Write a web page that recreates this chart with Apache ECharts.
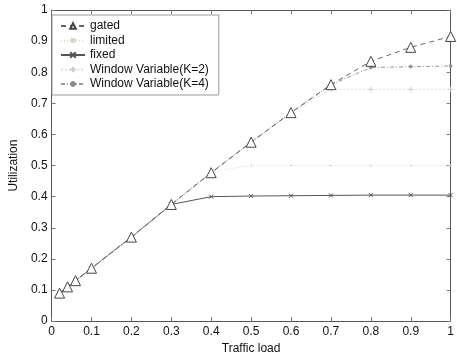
<!DOCTYPE html>
<html><head><meta charset="utf-8">
<script src="https://cdn.jsdelivr.net/npm/echarts@6/dist/echarts.min.js"></script>
<style>html,body{margin:0;padding:0;background:#fff}#c{width:457px;height:360px}</style>
</head><body><div id="c"></div>
<script>
const loads = [0.02, 0.04, 0.06, 0.1, 0.2, 0.3, 0.4, 0.5, 0.6, 0.7, 0.8, 0.9, 1.0];
const gated   = [0.09, 0.11, 0.13, 0.17, 0.27, 0.375, 0.477, 0.575, 0.67, 0.76, 0.835, 0.88, 0.915];
const limited = [0.09, 0.11, 0.13, 0.17, 0.27, 0.375, 0.48, 0.50, 0.50, 0.50, 0.50, 0.50, 0.50];
const fixed   = [0.09, 0.11, 0.13, 0.17, 0.27, 0.375, 0.40, 0.402, 0.403, 0.404, 0.405, 0.405, 0.405];
const wv2     = [0.09, 0.11, 0.13, 0.17, 0.27, 0.375, 0.477, 0.575, 0.67, 0.745, 0.745, 0.745, 0.745];
const wv4     = [0.09, 0.11, 0.13, 0.17, 0.27, 0.375, 0.477, 0.575, 0.67, 0.76, 0.815, 0.818, 0.82];
const names = ['gated', 'limited', 'fixed', 'Window Variable(K=2)', 'Window Variable(K=4)'];
const xTicks = ['0','0.1','0.2','0.3','0.4','0.5','0.6','0.7','0.8','0.9','1'];

const pair = arr => loads.map((x, i) => [x, arr[i]]);
const X_PATH = 'path://M0,0 L10,10 M10,0 L0,10';
const PLUS_PATH = 'path://M5,0 L5,10 M0,5 L10,5';
const STAR_PATH = 'path://M5,0 L5,10 M0,5 L10,5 M1.5,1.5 L8.5,8.5 M8.5,1.5 L1.5,8.5';

const font = 'Liberation Sans, Arial, sans-serif';
const chart = echarts.init(document.getElementById('c'));
const axisCommon = {
  type: 'value', min: 0, max: 1, interval: 0.1,
  axisLine: { show: true, onZero: false, lineStyle: { color: '#555', width: 1 } },
  axisTick: { show: true, inside: true, length: 4, lineStyle: { color: '#777' } },
  splitLine: { show: false },
};
const fmt = v => String(Math.round(v * 10) / 10);
chart.setOption({
  animation: false,
  backgroundColor: '#fff',
  grid: { left: 48, right: 4, top: 10, bottom: 34 },
  xAxis: [
    Object.assign({}, axisCommon, {
      position: 'bottom',
      name: 'Traffic load', nameLocation: 'middle', nameGap: 21,
      nameTextStyle: { fontFamily: font, fontSize: 12, color: '#111' },
      axisLabel: { fontFamily: font, fontSize: 12, color: '#111', margin: 5,
        formatter: v => xTicks[Math.round(v * 10)] }
    }),
    Object.assign({}, axisCommon, { position: 'top', axisLabel: { show: false } })
  ],
  yAxis: [
    Object.assign({}, axisCommon, {
      position: 'left',
      name: 'Utilization', nameLocation: 'middle', nameGap: 30,
      nameTextStyle: { fontFamily: font, fontSize: 12, color: '#111' },
      axisLabel: { fontFamily: font, fontSize: 12, color: '#111', margin: 4, formatter: fmt }
    }),
    Object.assign({}, axisCommon, { position: 'right', axisLabel: { show: false } })
  ],
  legend: {
    orient: 'vertical', left: 52, top: 15,
    backgroundColor: '#fff', borderColor: '#999', borderWidth: 1,
    padding: [4, 10, 4, 8], itemGap: 0.5, itemWidth: 24, itemHeight: 7,
    textStyle: { fontFamily: font, fontSize: 12, color: '#111', lineHeight: 14 },
    data: names
  },
  series: [
    { name: names[0], type: 'line', data: pair(gated), symbol: 'triangle', symbolSize: 10,
      lineStyle: { color: '#666', width: 1, type: [5, 4] },
      itemStyle: { color: '#fff', borderColor: '#444', borderWidth: 1 }, z: 5 },
    { name: names[1], type: 'line', data: pair(limited), symbol: 'circle', symbolSize: 2,
      lineStyle: { color: '#d8d8c8', width: 1, type: [1, 2] },
      itemStyle: { color: '#d8d8c8' } },
    { name: names[2], type: 'line', data: pair(fixed), symbol: X_PATH, symbolSize: 4,
      lineStyle: { color: '#555', width: 1 },
      itemStyle: { color: 'none', borderColor: '#555', borderWidth: 1 } },
    { name: names[3], type: 'line', data: pair(wv2), symbol: PLUS_PATH, symbolSize: 5,
      lineStyle: { color: '#ddd', width: 1, type: [2, 2] },
      itemStyle: { color: 'none', borderColor: '#ccc', borderWidth: 1 } },
    { name: names[4], type: 'line', data: pair(wv4), symbol: STAR_PATH, symbolSize: 4,
      lineStyle: { color: '#999', width: 1, type: [4, 2, 1, 2] },
      itemStyle: { color: 'none', borderColor: '#888', borderWidth: 1 } }
  ]
});
</script></body></html>
